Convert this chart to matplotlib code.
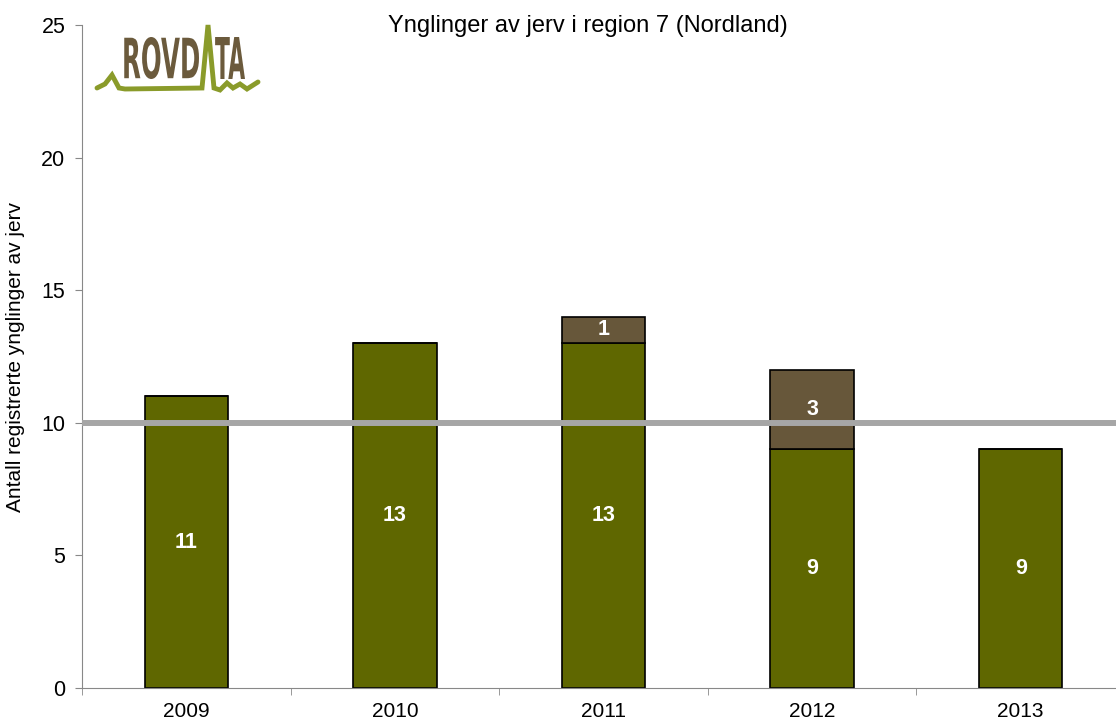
import numpy as np
import matplotlib.pyplot as plt
from matplotlib.textpath import TextPath
from matplotlib.patches import PathPatch
from matplotlib.font_manager import FontProperties
from matplotlib.transforms import Affine2D

plt.rcParams['font.family'] = ['Liberation Sans', 'DejaVu Sans']

years = ['2009', '2010', '2011', '2012', '2013']
certain = [11, 13, 13, 9, 9]
extra = [0, 0, 1, 3, 0]
target = 10

green = '#5f6700'
brown = '#67573a'

fig = plt.figure(figsize=(11.16, 7.24), dpi=100)
ax = fig.add_axes([82 / 1116, 36 / 724, 1043 / 1116, 663 / 724])

x = np.arange(len(years))
w = 0.40
ax.bar(x, certain, width=w, color=green, edgecolor='black', linewidth=1.2, zorder=2)
ax.bar(x, extra, width=w, bottom=certain, color=brown, edgecolor='black', linewidth=1.2, zorder=2)

for i in range(len(years)):
    ax.text(x[i], certain[i] / 2, str(certain[i]), ha='center', va='center',
            color='white', fontsize=15.5, fontweight='bold', zorder=3)
    if extra[i] > 0:
        ax.text(x[i], certain[i] + extra[i] / 2, str(extra[i]), ha='center', va='center',
                color='white', fontsize=15.5, fontweight='bold', zorder=3)

ax.axhline(target, color='#a6a6a6', linewidth=4.3, zorder=4)

ax.set_xlim(-0.5, 4.5)
ax.set_ylim(0, 25)
ax.set_yticks([0, 5, 10, 15, 20, 25])
ax.set_xticks(x)
ax.set_xticklabels(years)
ax.set_xticks(np.arange(-0.5, 5, 1), minor=True)
ax.tick_params(axis='x', which='major', length=0, labelsize=15, pad=10)
ax.tick_params(axis='x', which='minor', length=5, color='#888888')
ax.tick_params(axis='y', length=5, color='#888888', labelsize=15.5, pad=7)
for s in ['top', 'right']:
    ax.spines[s].set_visible(False)
for s in ['left', 'bottom']:
    ax.spines[s].set_color('#888888')
ax.set_ylabel('Antall registrerte ynglinger av jerv', fontsize=15, labelpad=12)

fig.text(588 / 1116, 1 - 26 / 724, 'Ynglinger av jerv i region 7 (Nordland)',
         ha='center', va='center', fontsize=17)

# logo, drawn in figure pixel coordinates (y upwards)
lax = fig.add_axes([90 / 1116, 1 - 100 / 724, 180 / 1116, 85 / 724])
lax.set_xlim(90, 270)
lax.set_ylim(724 - 100, 724 - 15)
lax.axis('off')


def fit_text(s, x0, x1, y0, y1, color):
    p = TextPath((0, 0), s, size=10, prop=FontProperties(family='DejaVu Sans', weight='bold'))
    v = p.vertices
    bx0, by0 = v.min(axis=0)
    bx1, by1 = v.max(axis=0)
    t = Affine2D().translate(-bx0, -by0).scale((x1 - x0) / (bx1 - bx0), (y1 - y0) / (by1 - by0)).translate(x0, y0)
    lax.add_patch(PathPatch(t.transform_path(p), color=color, lw=0))


logo_brown = '#6b5a3c'
fit_text('ROVD', 122, 199, 724 - 79, 724 - 37, logo_brown)
fit_text('TA', 215, 245, 724 - 79, 724 - 37, logo_brown)
lx = [97, 105, 112, 119, 125, 202, 208, 214, 220, 227, 233, 240, 247, 258]
ly = [88, 84, 75, 88, 89, 88, 25, 88, 90, 83, 88, 84, 89, 82]
lax.plot(lx, [724 - v for v in ly], color='#8a9b2a', linewidth=3.5,
         solid_capstyle='round', solid_joinstyle='miter')

fig.savefig('out.png', dpi=100)
